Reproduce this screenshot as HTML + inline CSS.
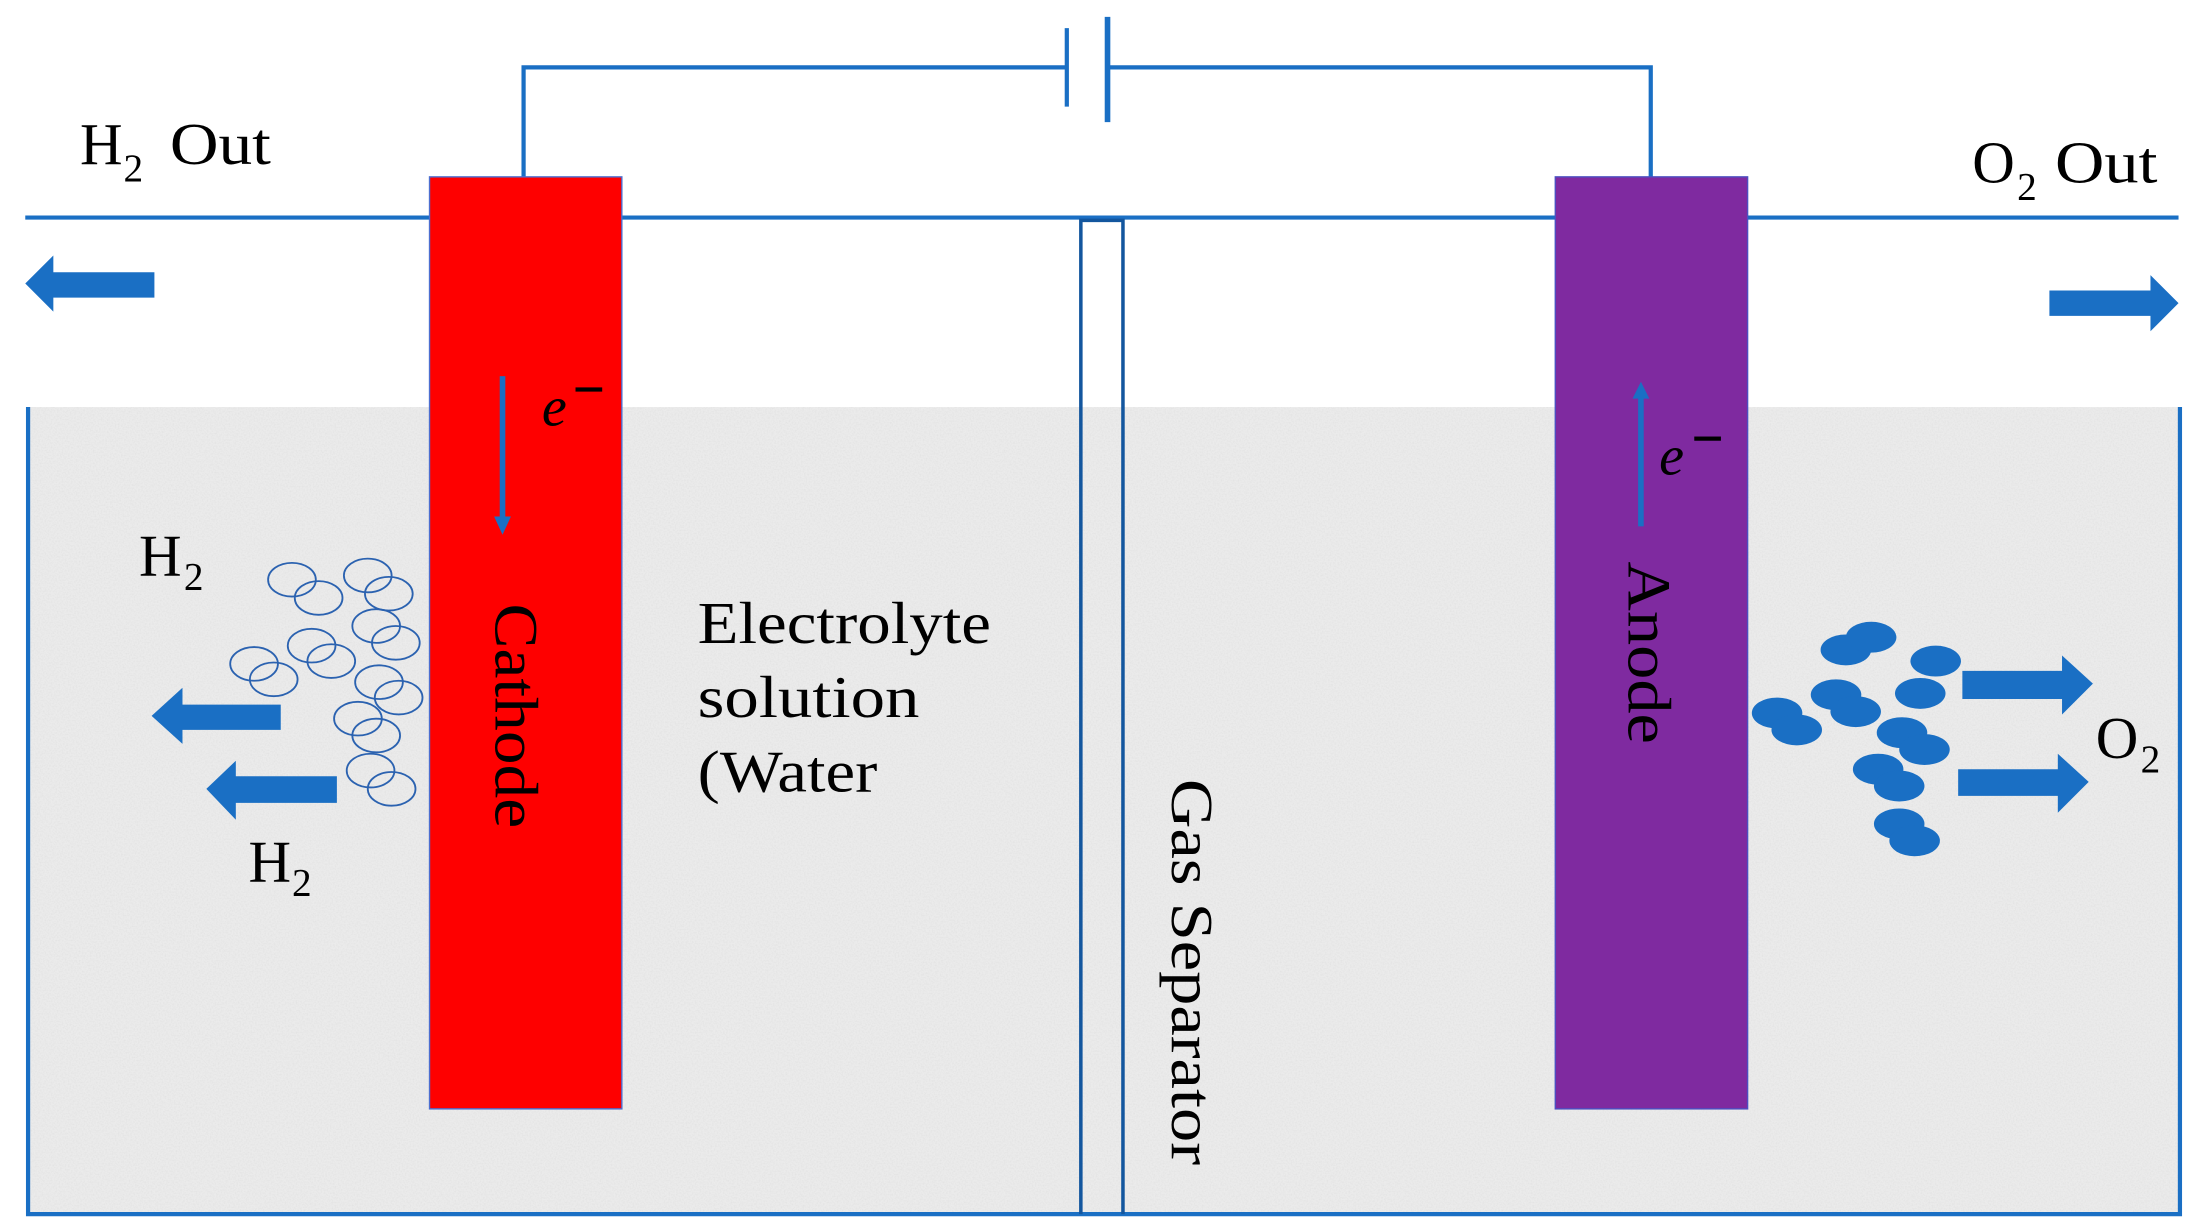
<!DOCTYPE html>
<html><head><meta charset="utf-8"><style>
html,body{margin:0;padding:0;background:#fff;}
svg{display:block;}
text{font-family:"Liberation Serif",serif;fill:#000;}
</style></head><body>
<svg width="2201" height="1230" viewBox="0 0 1568 876.3" preserveAspectRatio="none" xmlns="http://www.w3.org/2000/svg">
<defs>
<filter id="n" x="0" y="0" width="100%" height="100%">
<feTurbulence type="fractalNoise" baseFrequency="0.9" numOctaves="2" seed="3"/>
<feColorMatrix type="matrix" values="0 0 0 0 0.55  0 0 0 0 0.55  0 0 0 0 0.55  0 0 0 -1.2 0.75"/>
</filter>
</defs>
<rect width="1568" height="877" fill="#fff"/>
<rect x="20" y="290" width="1533" height="575" fill="#ebebeb"/>
<rect x="20" y="290" width="1533" height="575" filter="url(#n)" opacity="0.35"/>
<g stroke="#1a6fc4" stroke-width="3" fill="none">
<polyline points="373,126 373,48 760,48"/>
<polyline points="789,48 1176,48 1176,126"/>
<line x1="760" y1="20" x2="760" y2="76"/>
<line x1="789" y1="12" x2="789" y2="87" stroke-width="4"/>
<line x1="18" y1="155" x2="1552" y2="155"/>
<polyline points="20,290 20,865 1553,865 1553,290"/>
</g>
<g stroke="#13569e" stroke-width="2.5" fill="none">
<polyline points="770,865 770,157 800,157 800,865"/>
</g>
<rect x="306" y="126" width="137" height="664" fill="#fe0000" stroke="#4d6fd0" stroke-width="1"/>
<rect x="1108" y="126" width="137" height="664" fill="#7f2aa0" stroke="#4d4fc0" stroke-width="1"/>
<g fill="#1a6fc4">
<rect x="356" y="268" width="4" height="102"/>
<polygon points="352,368 364,368 358,381"/>
<rect x="1167" y="282" width="4" height="93"/>
<polygon points="1163,284 1175,284 1169,272"/>
</g>
<text x="386" y="303" font-size="40" font-style="italic">e</text>
<rect x="410" y="276" width="19" height="3" fill="#000"/>
<text x="1182" y="338" font-size="40" font-style="italic">e</text>
<rect x="1207" y="311" width="19" height="3" fill="#000"/>
<g fill="#1a6fc4">
<polygon points="18,202 38,182 38,194 110,194 110,212 38,212 38,222"/>
<polygon points="1552,216 1532,196 1532,207 1460,207 1460,225 1532,225 1532,236"/>
<polygon points="108,510 130,490 130,502 200,502 200,520 130,520 130,530"/>
<polygon points="147,562 168,542 168,553 240,553 240,572 168,572 168,584"/>
<polygon points="1491,487 1469,467 1469,478 1398,478 1398,498 1469,498 1469,509"/>
<polygon points="1488,557 1466,537 1466,548 1395,548 1395,567 1466,567 1466,579"/>
</g>
<g fill="none" stroke="#2b62b0" stroke-width="1.3">
<ellipse cx="208" cy="413" rx="17" ry="12"/><ellipse cx="227" cy="426" rx="17" ry="12"/>
<ellipse cx="262" cy="410" rx="17" ry="12"/><ellipse cx="277" cy="423" rx="17" ry="12"/>
<ellipse cx="268" cy="446" rx="17" ry="12"/><ellipse cx="282" cy="458" rx="17" ry="12"/>
<ellipse cx="222" cy="460" rx="17" ry="12"/><ellipse cx="236" cy="471" rx="17" ry="12"/>
<ellipse cx="181" cy="473" rx="17" ry="12"/><ellipse cx="195" cy="484" rx="17" ry="12"/>
<ellipse cx="270" cy="486" rx="17" ry="12"/><ellipse cx="284" cy="497" rx="17" ry="12"/>
<ellipse cx="255" cy="512" rx="17" ry="12"/><ellipse cx="268" cy="524" rx="17" ry="12"/>
<ellipse cx="264" cy="549" rx="17" ry="12"/><ellipse cx="279" cy="562" rx="17" ry="12"/>
</g>
<g fill="#1a6fc4">
<ellipse cx="1315" cy="463" rx="18" ry="11"/><ellipse cx="1333" cy="454" rx="18" ry="11"/>
<ellipse cx="1379" cy="471" rx="18" ry="11"/>
<ellipse cx="1368" cy="494" rx="18" ry="11"/>
<ellipse cx="1308" cy="495" rx="18" ry="11"/><ellipse cx="1322" cy="507" rx="18" ry="11"/>
<ellipse cx="1266" cy="508" rx="18" ry="11"/><ellipse cx="1280" cy="520" rx="18" ry="11"/>
<ellipse cx="1355" cy="522" rx="18" ry="11"/><ellipse cx="1371" cy="534" rx="18" ry="11"/>
<ellipse cx="1338" cy="548" rx="18" ry="11"/><ellipse cx="1353" cy="560" rx="18" ry="11"/>
<ellipse cx="1353" cy="587" rx="18" ry="11"/><ellipse cx="1364" cy="599" rx="18" ry="11"/>
</g>
<text x="57" y="117" font-size="42">H</text><text x="88" y="129" font-size="28">2</text>
<text x="121" y="117" font-size="42" textLength="72" lengthAdjust="spacingAndGlyphs">Out</text>
<text x="1405" y="130" font-size="42">O</text><text x="1437" y="142" font-size="28">2</text>
<text x="1464" y="130" font-size="42" textLength="73" lengthAdjust="spacingAndGlyphs">Out</text>
<text x="99" y="410" font-size="42">H</text><text x="131" y="420" font-size="28">2</text>
<text x="177" y="628" font-size="42">H</text><text x="208" y="638" font-size="28">2</text>
<text x="1493" y="540" font-size="42">O</text><text x="1525" y="550" font-size="28">2</text>
<text x="497" y="458" font-size="42" textLength="209" lengthAdjust="spacingAndGlyphs">Electrolyte</text>
<text x="497" y="511" font-size="42" textLength="158" lengthAdjust="spacingAndGlyphs">solution</text>
<text x="497" y="564" font-size="42" textLength="128" lengthAdjust="spacingAndGlyphs">(Water</text>
<text transform="translate(353,430) rotate(90)" font-size="44" textLength="160" lengthAdjust="spacingAndGlyphs">Cathode</text>
<text transform="translate(1160,400) rotate(90)" font-size="44" textLength="130" lengthAdjust="spacingAndGlyphs">Anode</text>
<text transform="translate(835,555) rotate(90)" font-size="42" textLength="275" lengthAdjust="spacingAndGlyphs">Gas Separator</text>
</svg>
</body></html>
